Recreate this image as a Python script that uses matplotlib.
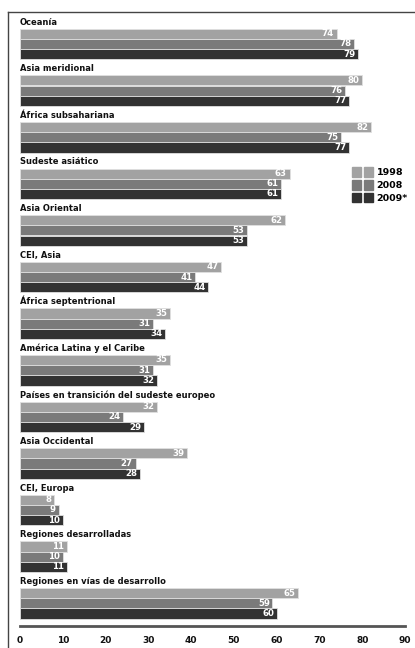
import matplotlib
matplotlib.use("Agg")
import matplotlib.pyplot as plt
from matplotlib.patches import Patch
from matplotlib.legend_handler import HandlerTuple
from matplotlib.lines import Line2D

categories = ["Oceanía", "Asia meridional", "África subsahariana", "Sudeste asiático",
              "Asia Oriental", "CEI, Asia", "África septentrional",
              "América Latina y el Caribe", "Países en transición del sudeste europeo",
              "Asia Occidental", "CEI, Europa", "Regiones desarrolladas",
              "Regiones en vías de desarrollo"]
series_names = ["1998", "2008", "2009*"]
v1998 = [74, 80, 82, 63, 62, 47, 35, 35, 32, 39, 8, 11, 65]
v2008 = [78, 76, 75, 61, 53, 41, 31, 31, 24, 27, 9, 10, 59]
v2009 = [79, 77, 77, 61, 53, 44, 34, 32, 29, 28, 10, 11, 60]
xticks = [0, 10, 20, 30, 40, 50, 60, 70, 80, 90]

colors = ["#a2a2a2", "#7a7a7a", "#323232"]
W, H = 415, 648
fig = plt.figure(figsize=(W / 100, H / 100), dpi=100)

unit = 46.6
top_px, bot_px = 12, 626
center0 = 44
ax = fig.add_axes([20 / W, 1 - bot_px / H, 385 / W, (bot_px - top_px) / H])
ax.set_xlim(0, 90)
ax.set_ylim((bot_px - center0) / unit, (top_px - center0) / unit)

bh = 10.2 / unit
font = "DejaVu Sans"
for s, vals in enumerate([v1998, v2008, v2009]):
    for i, v in enumerate(vals):
        y = i + (s - 1) * bh
        ax.barh(y, v, height=bh, color=colors[s], edgecolor="#e0e0e0", linewidth=0.6)
        ax.text(v - 0.6, y, str(v), ha="right", va="center", color="white",
                fontsize=6.2, fontweight="bold", family=font)
for i, c in enumerate(categories):
    ax.text(0, i - 1.5 * bh - 2 / unit, c, ha="left", va="bottom", fontsize=6.0,
            fontweight="bold", family=font, color="#111111")

for sp in ["top", "right", "left"]:
    ax.spines[sp].set_visible(False)
ax.spines["bottom"].set_color("#555555")
ax.spines["bottom"].set_linewidth(2.0)
ax.set_yticks([])
ax.set_xticks(xticks)
ax.tick_params(axis="x", length=0, pad=7, labelsize=6.5, labelcolor="#111111")
for lab in ax.get_xticklabels():
    lab.set_fontweight("bold")
    lab.set_family(font)

# frame lines (top and left)
fig.add_artist(Line2D([8 / W, 1], [1 - 12 / H, 1 - 12 / H], color="#444444", lw=1.0))
fig.add_artist(Line2D([8 / W, 8 / W], [0, 1 - 12 / H], color="#444444", lw=1.0))

handles = [(Patch(color=c), Patch(color=c)) for c in colors]
leg = fig.legend(handles, series_names, handler_map={tuple: HandlerTuple(ndivide=None, pad=0.35)},
                 loc="upper left", bbox_to_anchor=(352 / W, 1 - 167 / H), frameon=False,
                 handlelength=2.2, handleheight=1.2, handletextpad=0.4, labelspacing=0.3,
                 borderaxespad=0, borderpad=0,
                 prop={"family": font, "weight": "bold", "size": 6.8})

fig.savefig("out.png", dpi=100)
